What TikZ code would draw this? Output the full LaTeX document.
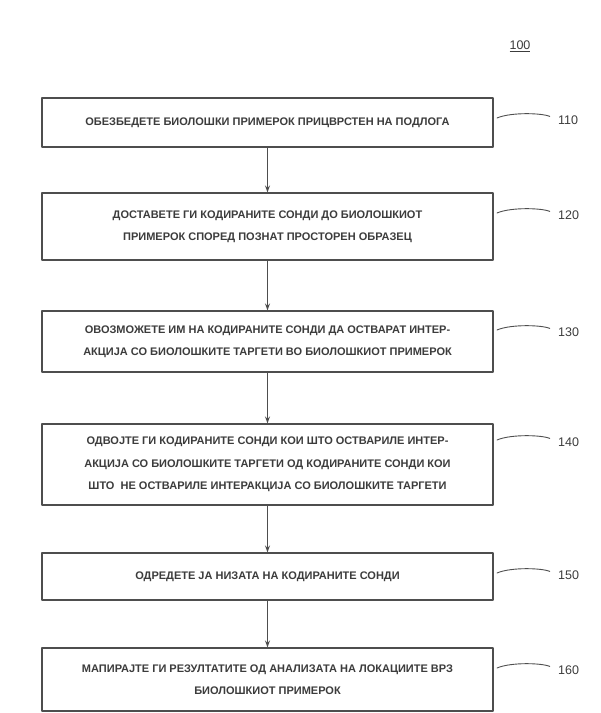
\documentclass[tikz,border=0pt]{standalone}
\usepackage{fontspec}
\setmainfont{Liberation Sans}
\usetikzlibrary{arrows.meta}

\begin{document}
\begin{tikzpicture}[
    x=1pt,
    y=-1pt,
    line cap=round,
    line join=round
]

\definecolor{InkGray}{HTML}{3C3C3C}
\definecolor{LineGray}{HTML}{4E4E4E}

\tikzset{
    step box/.style={
        draw=LineGray,
        line width=1.1pt,
        minimum width=451pt,
        minimum height=#1,
        inner sep=0pt,
        align=center,
        text=InkGray,
        font=\fontsize{11}{22.5}\selectfont\bfseries
    },
    ref tag/.style={
        inner sep=0pt,
        text=InkGray,
        font=\fontsize{12.5}{14}\selectfont
    },
    lead line/.style={
        draw=LineGray,
        line width=0.9pt,
        shorten >=9pt
    },
    flow arrow/.style={
        draw=LineGray,
        line width=1.1pt,
        -{Stealth[length=7pt,width=5pt]}
    }
}

\fill[white] (0,0) rectangle (601,713);
\useasboundingbox (0,0) rectangle (601,713);

\node[ref tag] (fig) at (520,46) {\underline{100}};

\node[step box=49pt] (s110) at (267.5,122.5) {ОБЕЗБЕДЕТЕ БИОЛОШКИ ПРИМЕРОК ПРИЦВРСТЕН НА ПОДЛОГА};
\node[step box=67pt] (s120) at (267.5,226.5) {ДОСТАВЕТЕ ГИ КОДИРАНИТЕ СОНДИ ДО БИОЛОШКИОТ\\ПРИМЕРОК СПОРЕД ПОЗНАТ ПРОСТОРЕН ОБРАЗЕЦ};
\node[step box=61pt] (s130) at (267.5,341.5) {ОВОЗМОЖЕТЕ ИМ НА КОДИРАНИТЕ СОНДИ ДА ОСТВАРАТ ИНТЕР-\\АКЦИЈА СО БИОЛОШКИТЕ ТАРГЕТИ ВО БИОЛОШКИОТ ПРИМЕРОК};
\node[step box=81pt] (s140) at (267.5,464.5) {ОДВОЈТЕ ГИ КОДИРАНИТЕ СОНДИ КОИ ШТО ОСТВАРИЛЕ ИНТЕР-\\АКЦИЈА СО БИОЛОШКИТЕ ТАРГЕТИ ОД КОДИРАНИТЕ СОНДИ КОИ\\ШТО\ \ НЕ ОСТВАРИЛЕ ИНТЕРАКЦИЈА СО БИОЛОШКИТЕ ТАРГЕТИ};
\node[step box=47pt] (s150) at (267.5,576.5) {ОДРЕДЕТЕ ЈА НИЗАТА НА КОДИРАНИТЕ СОНДИ};
\node[step box=63pt] (s160) at (267.5,679.5) {МАПИРАЈТЕ ГИ РЕЗУЛТАТИТЕ ОД АНАЛИЗАТА НА ЛОКАЦИИТЕ ВРЗ\\БИОЛОШКИОТ ПРИМЕРОК};

% reference numerals with their lead lines
\foreach \ly/\tag in {118/110,213/120,330/130,440/140,573/150,668/160} {
    \coordinate (lead\tag) at (497,\ly);
    \node[ref tag, anchor=west] (tag\tag) at (558,\ly+2) {\tag};
    \draw[lead line] (lead\tag) .. controls +(14,-6) and +(-16,-7) .. (tag\tag.west);
}

\foreach \a/\b in {s110/s120,s120/s130,s130/s140,s140/s150,s150/s160} {
    \draw[flow arrow] (\a.south) -- (\b.north);
}

\end{tikzpicture}
\end{document}
